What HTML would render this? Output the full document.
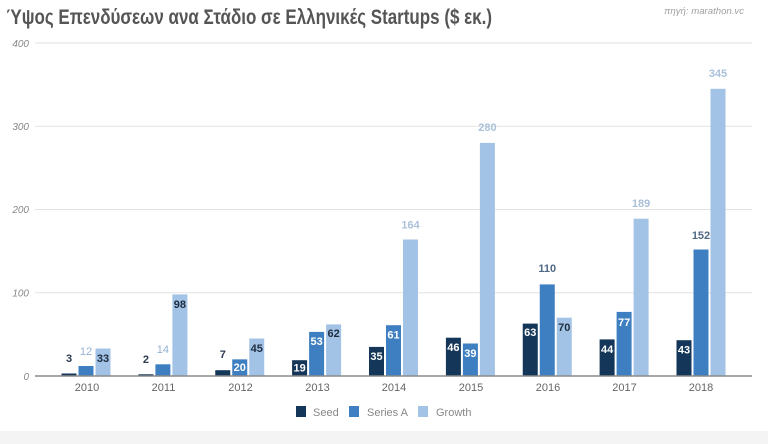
<!DOCTYPE html>
<html>
<head>
<meta charset="utf-8">
<style>
html,body{margin:0;padding:0;background:#fff;}
svg{display:block;}
</style>
</head>
<body>
<svg width="768" height="444" viewBox="0 0 768 444" xmlns="http://www.w3.org/2000/svg">
<rect x="0" y="0" width="768" height="444" fill="#ffffff"/>
<rect x="0" y="431" width="768" height="13" fill="#f4f4f4"/>

<!-- Title -->
<text x="6" y="24" font-family="Liberation Sans, DejaVu Sans, sans-serif" font-size="21" font-weight="bold" fill="#555555" textLength="486" lengthAdjust="spacingAndGlyphs">Ύψος Επενδύσεων ανα Στάδιο σε Ελληνικές Startups ($ εκ.)</text>
<text x="664" y="14" font-family="Liberation Sans, DejaVu Sans, sans-serif" font-size="9" font-style="italic" fill="#a0a0a0" textLength="80" lengthAdjust="spacingAndGlyphs">πηγή: marathon.vc</text>

<!-- Gridlines -->
<g stroke="#e2e2e2" stroke-width="1">
<line x1="35" y1="43" x2="752" y2="43"/>
<line x1="35" y1="126.25" x2="752" y2="126.25"/>
<line x1="35" y1="209.5" x2="752" y2="209.5"/>
<line x1="35" y1="292.75" x2="752" y2="292.75"/>
</g>

<!-- Y labels -->
<g font-family="Liberation Sans, sans-serif" font-size="10" font-style="italic" fill="#888" text-anchor="end">
<text x="29" y="47">400</text>
<text x="29" y="130">300</text>
<text x="29" y="213">200</text>
<text x="29" y="296.5">100</text>
<text x="29" y="380">0</text>
</g>

<!-- Bars -->
<g>
<!-- Seed -->
<g fill="#143658">
<rect x="61.5" y="373.5" width="15" height="2.5"/>
<rect x="138.4" y="374.3" width="15" height="1.7"/>
<rect x="215.25" y="370.2" width="15" height="5.8"/>
<rect x="292.1" y="360.2" width="15" height="15.8"/>
<rect x="369" y="346.9" width="15" height="29.1"/>
<rect x="445.9" y="337.7" width="15" height="38.3"/>
<rect x="522.75" y="323.6" width="15" height="52.4"/>
<rect x="599.6" y="339.4" width="15" height="36.6"/>
<rect x="676.5" y="340.2" width="15" height="35.8"/>
</g>
<!-- Series A -->
<g fill="#3e7fc1">
<rect x="78.5" y="366" width="15" height="10"/>
<rect x="155.4" y="364.3" width="15" height="11.7"/>
<rect x="232.25" y="359.35" width="15" height="16.65"/>
<rect x="309.1" y="331.9" width="15" height="44.1"/>
<rect x="386" y="325.2" width="15" height="50.8"/>
<rect x="462.9" y="343.5" width="15" height="32.5"/>
<rect x="539.75" y="284.4" width="15" height="91.6"/>
<rect x="616.6" y="311.9" width="15" height="64.1"/>
<rect x="693.5" y="249.5" width="15" height="126.5"/>
</g>
<!-- Growth -->
<g fill="#a3c3e6">
<rect x="95.5" y="348.5" width="15" height="27.5"/>
<rect x="172.4" y="294.4" width="15" height="81.6"/>
<rect x="249.25" y="338.5" width="15" height="37.5"/>
<rect x="326.1" y="324.4" width="15" height="51.6"/>
<rect x="403" y="239.5" width="15" height="136.5"/>
<rect x="479.9" y="142.9" width="15" height="233.1"/>
<rect x="556.75" y="317.7" width="15" height="58.3"/>
<rect x="633.6" y="218.7" width="15" height="157.3"/>
<rect x="710.5" y="88.8" width="15" height="287.2"/>
</g>
</g>

<!-- Zero axis -->
<line x1="35" y1="376" x2="752" y2="376" stroke="#8a8a8a" stroke-width="1.5"/>

<!-- Value labels -->
<g font-family="Liberation Sans, sans-serif" font-size="11" font-weight="bold" text-anchor="middle">
<!-- 2010 -->
<text x="69" y="362" fill="#2b3b4f">3</text>
<text x="86" y="355" fill="#93b1d3" font-weight="normal">12</text>
<text x="103" y="362" fill="#1e2d40">33</text>
<!-- 2011 -->
<text x="145.9" y="363" fill="#2b3b4f">2</text>
<text x="162.9" y="353" fill="#93b1d3" font-weight="normal">14</text>
<text x="179.9" y="308" fill="#1e2d40">98</text>
<!-- 2012 -->
<text x="222.75" y="358" fill="#2b3b4f">7</text>
<text x="239.75" y="371" fill="#ffffff">20</text>
<text x="256.75" y="352" fill="#1e2d40">45</text>
<!-- 2013 -->
<text x="299.6" y="371.5" fill="#ffffff">19</text>
<text x="316.6" y="345" fill="#ffffff">53</text>
<text x="333.6" y="337" fill="#1e2d40">62</text>
<!-- 2014 -->
<text x="376.5" y="360" fill="#ffffff">35</text>
<text x="393.5" y="338.5" fill="#ffffff">61</text>
<text x="410.5" y="228.5" fill="#aac1d9">164</text>
<!-- 2015 -->
<text x="453.4" y="351" fill="#ffffff">46</text>
<text x="470.4" y="357" fill="#ffffff">39</text>
<text x="487.4" y="131" fill="#aac1d9">280</text>
<!-- 2016 -->
<text x="530.25" y="336" fill="#ffffff">63</text>
<text x="547.25" y="272" fill="#4f6985">110</text>
<text x="564.25" y="331" fill="#1e2d40">70</text>
<!-- 2017 -->
<text x="607.1" y="353" fill="#ffffff">44</text>
<text x="624.1" y="326" fill="#ffffff">77</text>
<text x="641.1" y="207" fill="#aac1d9">189</text>
<!-- 2018 -->
<text x="684" y="353.5" fill="#ffffff">43</text>
<text x="701" y="239" fill="#4f6985">152</text>
<text x="718" y="77" fill="#aac1d9">345</text>
</g>

<!-- X labels -->
<g font-family="Liberation Sans, sans-serif" font-size="11" fill="#666" text-anchor="middle">
<text x="87" y="391">2010</text>
<text x="163.5" y="391">2011</text>
<text x="240.5" y="391">2012</text>
<text x="317.5" y="391">2013</text>
<text x="394" y="391">2014</text>
<text x="471" y="391">2015</text>
<text x="548" y="391">2016</text>
<text x="624.5" y="391">2017</text>
<text x="701" y="391">2018</text>
</g>

<!-- Legend -->
<g font-family="Liberation Sans, sans-serif" font-size="11" fill="#888">
<rect x="296" y="406" width="10" height="11" fill="#143658"/>
<text x="313" y="416">Seed</text>
<rect x="349" y="406" width="10" height="11" fill="#3e7fc1"/>
<text x="367" y="416">Series A</text>
<rect x="418" y="406" width="10" height="11" fill="#a3c3e6"/>
<text x="436" y="416">Growth</text>
</g>
</svg>
</body>
</html>
